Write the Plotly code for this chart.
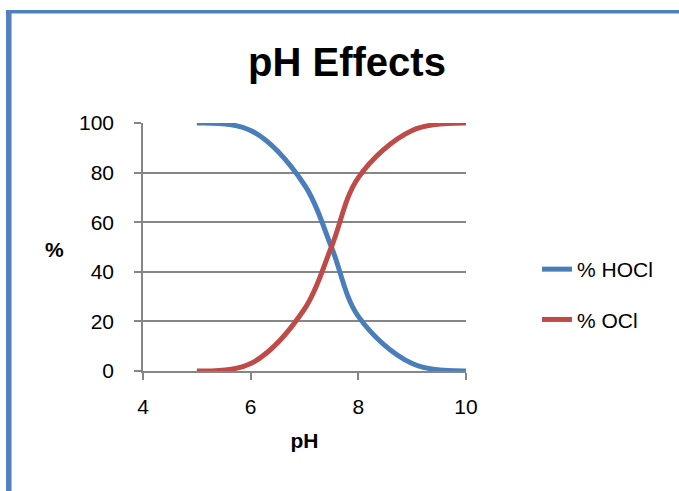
import plotly.graph_objects as go

# Data
ph = [5, 6, 7, 7.5, 8, 9, 10]
hocl = [100, 97, 75, 50, 22, 3, 0]
ocl = [0, 3, 25, 50, 78, 97, 100]

x_ticks = [4, 6, 8, 10]
y_ticks = [0, 20, 40, 60, 80, 100]

W, H = 679, 491
L, R, T, B = 143, 466, 123, 371

BLUE = "#4A7EBB"
RED = "#BE4B48"
GRID = "#868686"
BORDER = "#4F81BD"
FONT = "Liberation Sans"

pw = R - L
ph_px = B - T


def px_x(p):
    return (p - L) / pw


def px_y(p):
    return (B - p) / ph_px


fig = go.Figure()
fig.add_trace(go.Scatter(x=ph, y=hocl, name="% HOCl", mode="lines",
                         line=dict(color=BLUE, width=5, shape="spline", smoothing=1.0),
                         legendgroup="a"))
fig.add_trace(go.Scatter(x=ph, y=ocl, name="% OCl", mode="lines",
                         line=dict(color=RED, width=5, shape="spline", smoothing=1.0),
                         legendgroup="b"))

# chart-area border (left and top edges visible)
fig.add_shape(type="line", xref="paper", yref="paper",
              x0=px_x(8.8), x1=px_x(8.8), y0=px_y(H + 10), y1=px_y(10),
              line=dict(color=BORDER, width=5.5), layer="below")
fig.add_shape(type="line", xref="paper", yref="paper",
              x0=px_x(6), x1=px_x(W + 10), y0=px_y(11.7), y1=px_y(11.7),
              line=dict(color=BORDER, width=3.5), layer="below")

fig.add_annotation(text="<b>%</b>", xref="paper", yref="paper",
                   x=px_x(54), y=px_y(249),
                   showarrow=False, font=dict(family=FONT, size=21, color="black"),
                   xanchor="center", yanchor="middle")

fig.update_layout(
    width=W, height=H,
    margin=dict(l=L, r=W - R, t=T, b=H - B, pad=0),
    paper_bgcolor="white", plot_bgcolor="white",
    font=dict(family=FONT, size=21, color="black"),
    title=dict(text="<b>pH Effects</b>", x=347 / W, xanchor="center",
               y=1 - 62 / H, yanchor="middle",
               font=dict(family=FONT, size=40, color="black")),
    xaxis=dict(range=[4, 10], tickvals=x_ticks, showgrid=False, zeroline=False,
               showline=True, linecolor=GRID, linewidth=1.5,
               ticks="outside", ticklen=7, tickcolor=GRID, tickwidth=1.5,
               tickfont=dict(size=21), ticklabelstandoff=9,
               title=dict(text="<b>pH</b>", font=dict(size=21), standoff=16)),
    yaxis=dict(range=[0, 100], tickvals=y_ticks, showgrid=True, gridcolor=GRID,
               gridwidth=1.5, zeroline=False, showline=True, linecolor=GRID,
               linewidth=1.5, ticks="outside", ticklen=7, tickcolor=GRID,
               tickwidth=1.5, tickfont=dict(size=21), ticklabelstandoff=16),
    legend=dict(x=px_x(537), y=px_y(249), xanchor="left", yanchor="top",
                font=dict(size=21), tracegroupgap=20, bgcolor="rgba(0,0,0,0)"),
    showlegend=True,
)

fig.write_html("out.html", config={"displayModeBar": False},
               post_script="document.body.style.margin='0';")
